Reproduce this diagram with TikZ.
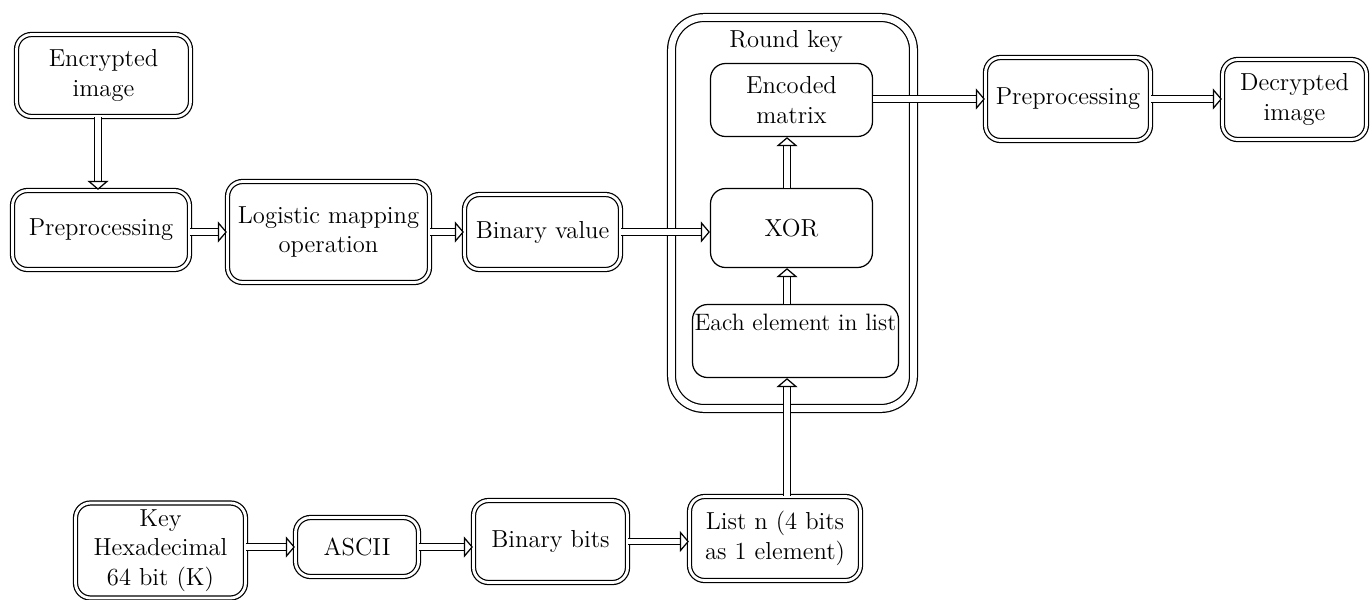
\documentclass[tikz,border=0pt]{standalone}
\usetikzlibrary{arrows.meta,calc}
\begin{document}
\begin{tikzpicture}[x=0.02cm,y=-0.02cm, line width=0.7pt,
  font=\fontsize{14}{16.8}\selectfont,
  dbox/.style={draw, double, double distance=1.6pt, rounded corners=0.3cm, align=center, inner sep=0pt},
  sbox/.style={draw, rounded corners=0.3cm, align=center, inner sep=0pt},
  bigbox/.style={draw, double, double distance=3.8pt, rounded corners=0.65cm, inner sep=0pt},
  arr/.style={double, double distance=3.1pt, -{Triangle[open, fill=white, line width=0.7pt, length=0.18cm, width=0.42cm]}},
]
\useasboundingbox (0,0) rectangle (1371,599);

\node[bigbox, minimum width=4.84cm, minimum height=7.82cm] (round) at (792.5,213) {};
\node (rlabel) at (786,41) {Round key};

\node[dbox, minimum width=3.48cm, minimum height=1.64cm] (enc) at (103.5,75.5) {Encrypted\\image};
\node[dbox, minimum width=3.54cm, minimum height=1.58cm] (pre1) at (101,230) {Preprocessing};
\node[dbox, minimum width=4.04cm, minimum height=2.02cm] (log) at (328.5,232) {Logistic mapping\\operation};
\node[dbox, minimum width=3.12cm, minimum height=1.5cm] (binv) at (542.5,232) {Binary value};

\node[sbox, minimum width=3.24cm, minimum height=1.46cm] (encm) at (791.5,100) {Encoded\\matrix};
\node[sbox, minimum width=3.24cm, minimum height=1.58cm] (xor) at (791.5,228) {XOR};
\node[sbox, minimum width=4.12cm, minimum height=1.46cm, font=\fontsize{13.5}{16.8}\selectfont] (each) at (795.5,341) {Each element in list\\\strut};

\node[dbox, minimum width=3.3cm, minimum height=1.66cm] (pre2) at (1068,99) {Preprocessing};
\node[dbox, minimum width=2.88cm, minimum height=1.6cm] (dec) at (1294.5,99.5) {Decrypted\\image};

\node[dbox, minimum width=3.4cm, minimum height=1.9cm] (key) at (160.5,550.5) {Key\\Hexadecimal\\64 bit (K)};
\node[dbox, minimum width=2.46cm, minimum height=1.18cm] (ascii) at (357,547) {ASCII};
\node[dbox, minimum width=3.08cm, minimum height=1.64cm] (binb) at (550.5,541.5) {Binary bits};
\node[dbox, minimum width=3.42cm, minimum height=1.68cm] (list) at (775,538.5) {List n (4 bits\\as 1 element)};

\coordinate (a1) at (98,0);
\coordinate (ax) at (787,0);

\draw[arr] (enc.south -| a1) -- (pre1.north -| a1);
\draw[arr] (pre1.east |- log.west) -- (log.west);
\draw[arr] (log.east) -- (binv.west);
\draw[arr] (binv.east) -- (xor.west |- binv.east);
\draw[arr] (xor.north -| ax) -- (encm.south -| ax);
\draw[arr] (each.north -| ax) -- (xor.south -| ax);
\draw[arr] (list.north -| ax) -- (each.south -| ax);
\draw[arr] (encm.east |- pre2.west) -- (pre2.west);
\draw[arr] (pre2.east) -- (dec.west |- pre2.east);
\draw[arr] (key.east |- ascii.west) -- (ascii.west);
\draw[arr] (ascii.east) -- (binb.west |- ascii.east);
\draw[arr] (binb.east) -- (list.west |- binb.east);
\end{tikzpicture}
\end{document}
